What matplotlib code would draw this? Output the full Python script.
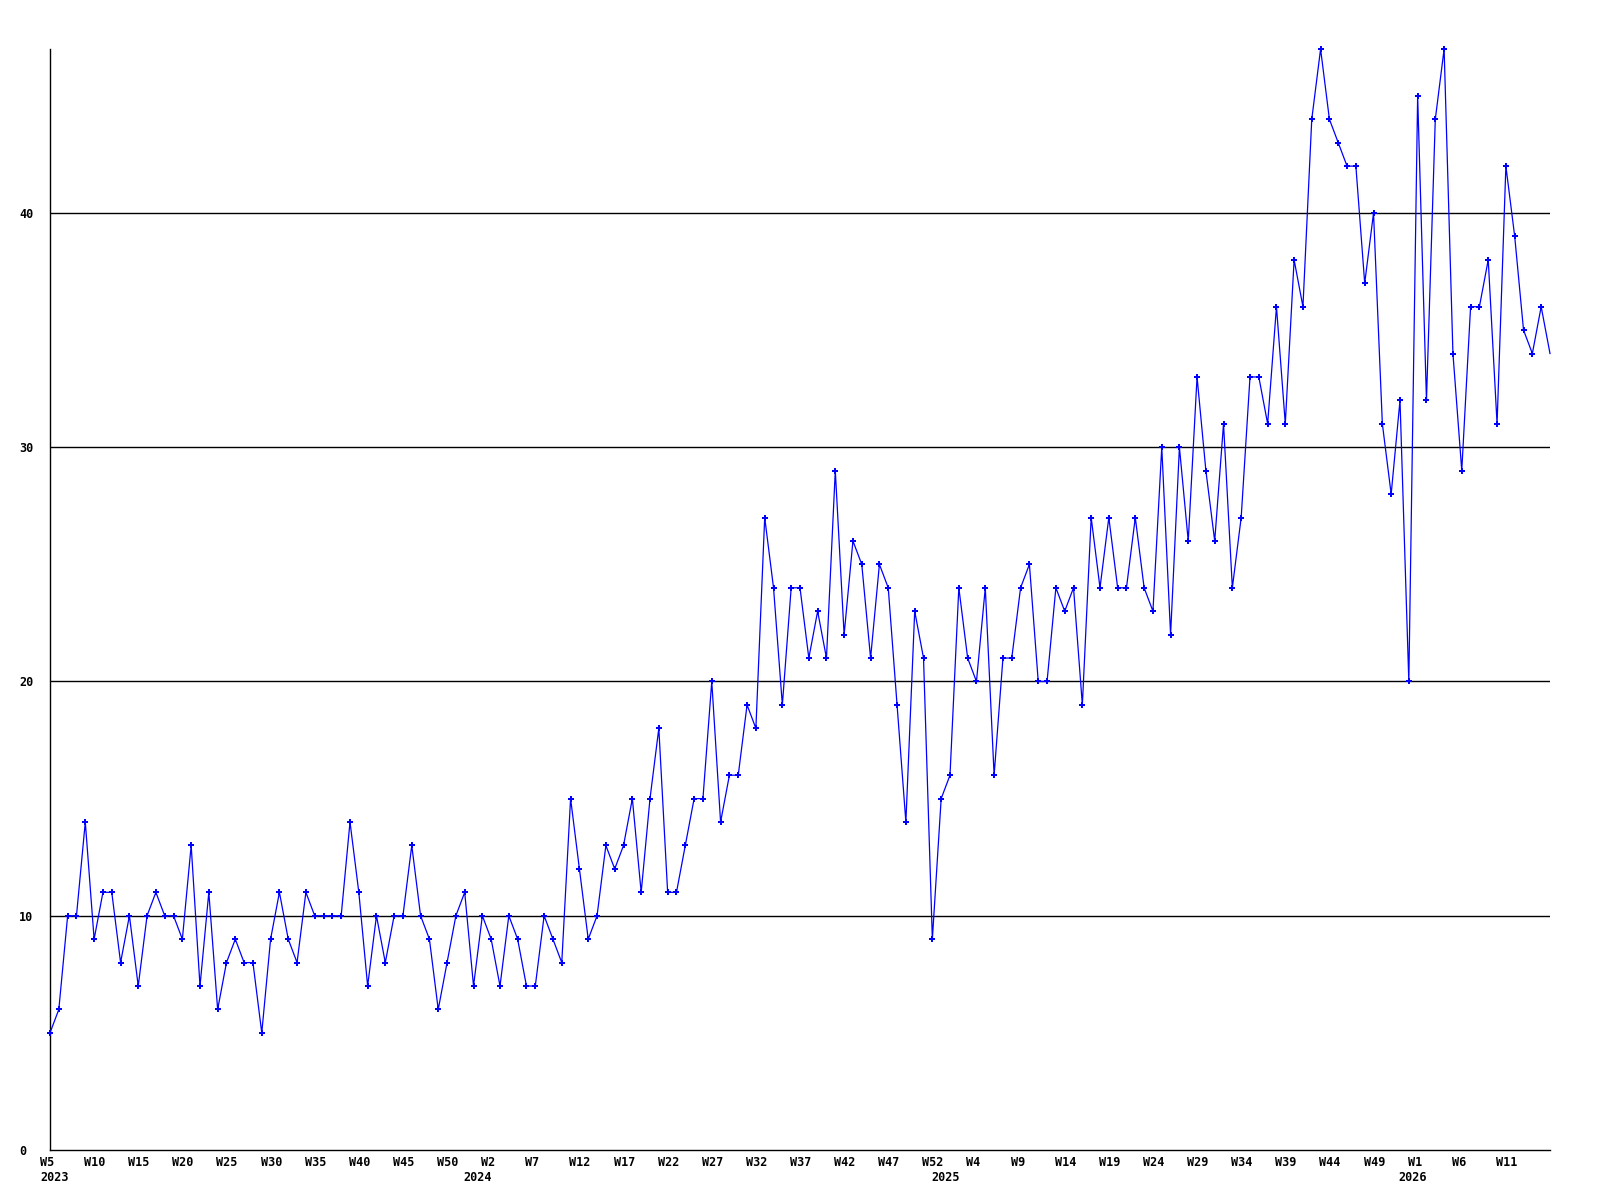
import matplotlib
matplotlib.use('Agg')
import matplotlib.pyplot as plt
import matplotlib.transforms as mtransforms

# weekly values, 2023 W5 .. 2026 W16
counts = [
    5, 6, 10, 10, 14, 9, 11, 11, 8, 10,
    7, 10, 11, 10, 10, 9, 13, 7, 11, 6,
    8, 9, 8, 8, 5, 9, 11, 9, 8, 11,
    10, 10, 10, 10, 14, 11, 7, 10, 8, 10,
    10, 13, 10, 9, 6, 8, 10, 11, 7, 10,
    9, 7, 10, 9, 7, 7, 10, 9, 8, 15,
    12, 9, 10, 13, 12, 13, 15, 11, 15, 18,
    11, 11, 13, 15, 15, 20, 14, 16, 16, 19,
    18, 27, 24, 19, 24, 24, 21, 23, 21, 29,
    22, 26, 25, 21, 25, 24, 19, 14, 23, 21,
    9, 15, 16, 24, 21, 20, 24, 16, 21, 21,
    24, 25, 20, 20, 24, 23, 24, 19, 27, 24,
    27, 24, 24, 27, 24, 23, 30, 22, 30, 26,
    33, 29, 26, 31, 24, 27, 33, 33, 31, 36,
    31, 38, 36, 44, 47, 44, 43, 42, 42, 37,
    40, 31, 28, 32, 20, 45, 32, 44, 47, 34,
    29, 36, 36, 38, 31, 42, 39, 35, 34, 36,
    34,
]

# one label every 5 weeks
week_ticks = [
    'W5', 'W10', 'W15', 'W20', 'W25', 'W30', 'W35', 'W40', 'W45', 'W50',
    'W2', 'W7', 'W12', 'W17', 'W22', 'W27', 'W32', 'W37', 'W42', 'W47', 'W52',
    'W4', 'W9', 'W14', 'W19', 'W24', 'W29', 'W34', 'W39', 'W44', 'W49',
    'W1', 'W6', 'W11',
]
years = ['2023', '2024', '2025', '2026']
year_start = [0, 48, 101, 154]

y_ticks = [0, 10, 20, 30, 40]

FONT = 'DejaVu Sans Mono'

fig = plt.figure(figsize=(16, 12), dpi=100)
fig.patch.set_facecolor('white')
ax = fig.add_axes([50 / 1600, 50 / 1200, 1500 / 1600, 1101 / 1200])

x = list(range(len(counts)))
ax.plot(x, counts, color='#0000ff', linewidth=0.9, marker='P', markersize=5,
        markeredgewidth=0, markevery=list(range(len(counts) - 1)),
        clip_on=False, zorder=3)

ax.set_xlim(0, len(counts) - 1)
ax.set_ylim(0, 47)

for v in y_ticks[1:]:
    ax.axhline(v, color='black', linewidth=1.0, zorder=1)

for s in ['top', 'right']:
    ax.spines[s].set_visible(False)
for s in ['left', 'bottom']:
    ax.spines[s].set_linewidth(1.0)
    ax.spines[s].set_color('black')

# x ticks
ax.set_xticks(list(range(0, 5 * len(week_ticks), 5)))
ax.set_xticklabels(week_ticks, fontfamily=FONT, fontweight='bold', fontsize=8.5, ha='left')
ax.tick_params(axis='x', length=0, pad=4.5)
shift = mtransforms.ScaledTranslation(-10 / 100, 0, fig.dpi_scale_trans)
for lab in ax.get_xticklabels():
    lab.set_transform(lab.get_transform() + shift)

# y ticks
ax.set_yticks(y_ticks)
ax.set_yticklabels([str(v) for v in y_ticks], fontfamily=FONT, fontweight='bold',
                   fontsize=8.5, ha='left')
ax.tick_params(axis='y', length=0, pad=22.3)

# year labels under the week labels
trans = mtransforms.blended_transform_factory(ax.transData, ax.transAxes)
for yr, i in zip(years, year_start):
    off = mtransforms.ScaledTranslation(-10 / 100, -21 / 100, fig.dpi_scale_trans)
    ax.text(i, 0, yr, transform=trans + off, ha='left', va='top',
            fontfamily=FONT, fontweight='bold', fontsize=8.5)

fig.savefig('out.png', dpi=100, facecolor='white')
